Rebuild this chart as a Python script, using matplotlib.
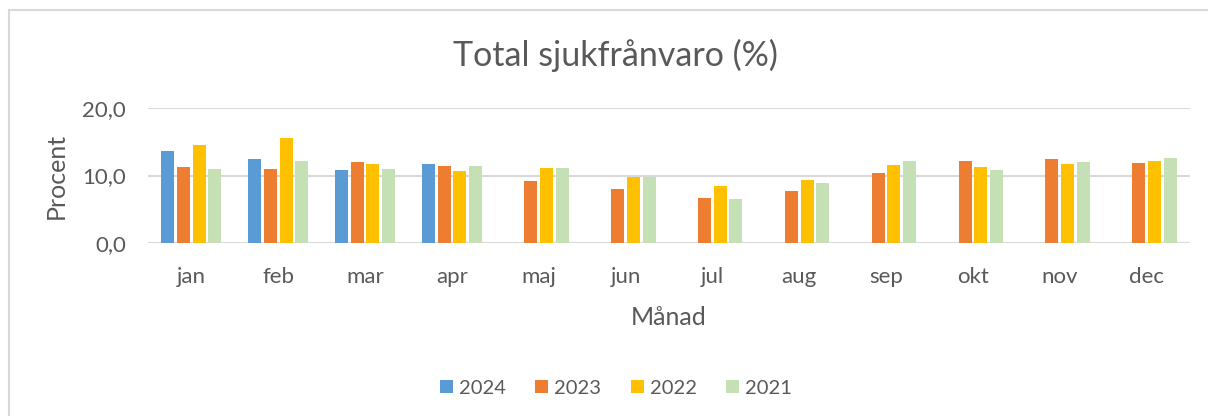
import matplotlib
matplotlib.use("Agg")
import matplotlib.pyplot as plt
import numpy as np
from matplotlib.patches import Rectangle, Patch

# Data
months = ["jan", "feb", "mar", "apr", "maj", "jun", "jul", "aug", "sep", "okt", "nov", "dec"]
years = ["2024", "2023", "2022", "2021"]
v2024 = [13.6, 12.4, 10.8, 11.7, None, None, None, None, None, None, None, None]
v2023 = [11.2, 11.0, 12.0, 11.4, 9.2, 8.0, 6.7, 7.7, 10.4, 12.1, 12.4, 11.8]
v2022 = [14.5, 15.5, 11.7, 10.7, 11.1, 9.8, 8.5, 9.3, 11.5, 11.2, 11.7, 12.1]
v2021 = [10.9, 12.1, 11.0, 11.4, 11.1, 9.8, 6.5, 8.9, 12.1, 10.8, 12.0, 12.6]

colors = ["#5B9BD5", "#ED7D31", "#FFC000", "#C5E0B4"]
TXT = "#595959"
GRID = "#D9D9D9"
FONT = "Lato"

plt.rcParams["font.family"] = [FONT, "DejaVu Sans"]

fig = plt.figure(figsize=(12.08, 4.16), dpi=100, facecolor="white")

# chart border (light gray, as in Excel)
fig.patches.append(Rectangle((9 / 1208, -0.1), 1.2, 1.1 - 10 / 416,
                             transform=fig.transFigure, fill=False,
                             edgecolor="#D9D9D9", linewidth=1.5))

ax = fig.add_axes([148 / 1208, 1 - 243 / 416, (1190 - 148) / 1208, (243 - 108) / 416])

x = np.arange(len(months))
width = 0.15
step = 0.18
series = [v2024, v2023, v2022, v2021]
for i, (vals, col) in enumerate(zip(series, colors)):
    ys = [np.nan if v is None else v for v in vals]
    ax.bar(x + (i - 1.5) * step, ys, width=width, color=col, zorder=3)

ax.set_xlim(-0.5, len(months) - 0.5)
ax.set_ylim(0, 20)
ax.set_yticks([0, 10, 20])
ax.set_yticklabels(["0,0", "10,0", "20,0"])
ax.set_xticks(x)
ax.set_xticklabels(months)
ax.tick_params(axis="both", length=0, colors=TXT, labelsize=16)
ax.tick_params(axis="x", pad=17)
ax.tick_params(axis="y", pad=16)
ax.grid(True, axis="y", color=GRID, linewidth=1.5, zorder=0)
for s in ax.spines.values():
    s.set_visible(False)

ax.set_ylabel("Procent", fontsize=18, color=TXT, labelpad=10)
ax.set_xlabel("Månad", fontsize=18, color=TXT, labelpad=14)

fig.text(615 / 1208, 1 - 55 / 416, "Total sjukfrånvaro (%)", ha="center", va="center",
         fontsize=24.5, color=TXT)

handles = [Patch(facecolor=c, edgecolor="none") for c in colors]
fig.legend(handles, years, loc="center", bbox_to_anchor=(616 / 1208, 1 - 388 / 416),
           ncol=4, frameon=False, fontsize=14.5, labelcolor=TXT,
           handlelength=0.65, handleheight=0.65, handletextpad=0.3, columnspacing=1.45)

fig.savefig("out.png", dpi=100, facecolor="white")
